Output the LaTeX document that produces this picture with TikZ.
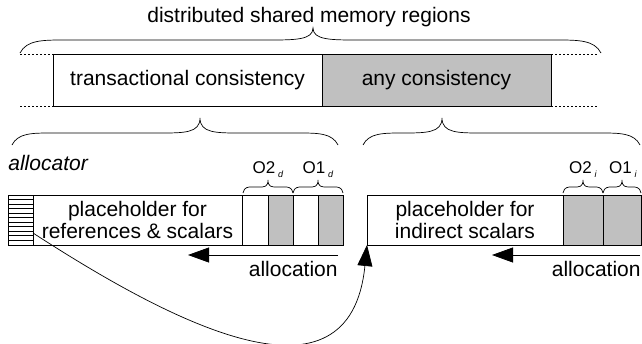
\documentclass[tikz,border=0pt]{standalone}
\usepackage{fontspec}
\setmainfont{Liberation Sans}
\usetikzlibrary{arrows.meta}
\definecolor{cellgray}{RGB}{192,192,192}
\newcommand\mybrace[7]{\draw[bracestyle] (#1,#4) .. controls ({#1+0.15*#7},#5) and ({#1+0.5*#7},#5) .. ({#1+#7},#5) -- ({#2-#7},#5) .. controls ({#2-0.4*#7},#5) and (#2,#5) .. (#2,#6) .. controls (#2,#5) and ({#2+0.4*#7},#5) .. ({#2+#7},#5) -- ({#3-#7},#5) .. controls ({#3-0.5*#7},#5) and ({#3-0.15*#7},#5) .. (#3,#4);}
\newcommand\subl[1]{\raisebox{-4pt}{\fontsize{9}{9}\selectfont\textit{#1}}}
\begin{document}
\begin{tikzpicture}[x=1pt,y=-1pt,line width=0.8pt,
  bracestyle/.style={line width=0.7pt},
  box/.style={draw,inner sep=0pt,outer sep=0pt,align=center,font=\fontsize{21}{22}\selectfont},
  graybox/.style={box,fill=cellgray},
  dotline/.style={line width=0.8pt,dash pattern=on 2pt off 2pt},
  bigarrow/.style={-{Triangle[length=21pt,width=15pt]}},
  label/.style={font=\fontsize{21}{22}\selectfont,inner sep=0pt},
  olabel/.style={font=\fontsize{17}{18}\selectfont,inner sep=0pt,anchor=base}]
\useasboundingbox (0,0) rectangle (642,343);

% title and top brace
\node[label,anchor=base] (title) at (309,22) {distributed shared memory regions};
\mybrace{20}{313}{601}{53}{40}{28}{45}

% top boxes
\node[box,minimum width=269pt,minimum height=52pt] (tc) at (187.5,80) {transactional consistency};
\node[graybox,minimum width=229pt,minimum height=52pt] (ac) at (436.5,80) {any consistency};
\coordinate (dl1) at (20,54);
\coordinate (dl2) at (20,106);
\coordinate (dr1) at (598,54);
\coordinate (dr2) at (598,106);
\draw[dotline] (dl1) -- (tc.north west);
\draw[dotline] (dl2) -- (tc.south west);
\draw[dotline] (ac.north east) -- (dr1);
\draw[dotline] (ac.south east) -- (dr2);

% lower braces
\mybrace{12}{200}{338}{145}{133}{118}{40}
\mybrace{363}{442}{640}{145}{133}{118}{40}

% allocator label
\node[label,anchor=base west,font=\fontsize{21}{22}\selectfont\itshape] (alloc) at (8,170) {allocator};

% left row
\node[box,minimum width=25pt,minimum height=50pt] (hatch) at (20.5,220) {};
\foreach \yy in {199.5,204,...,241.5} \draw[line width=0.5pt] (8,\yy) -- (33,\yy);
\node[box,minimum width=209pt,minimum height=50pt] (refs) at (137.5,220) {placeholder for\\references \& scalars};
\node[box,minimum width=26pt,minimum height=50pt] (c1) at (255,220) {};
\node[graybox,minimum width=25pt,minimum height=50pt] (c2) at (280.5,220) {};
\node[box,minimum width=25pt,minimum height=50pt] (c3) at (305.5,220) {};
\node[graybox,minimum width=25pt,minimum height=50pt] (c4) at (330.5,220) {};

\mybrace{243}{268}{293}{193}{187}{180}{9}
\mybrace{293}{318}{343}{193}{187}{180}{9}
\node[olabel] (o2d) at (268,173) {O2\,\subl{d}};
\node[olabel] (o1d) at (318,173) {O1\,\subl{d}};

% right row
\node[box,minimum width=196pt,minimum height=50pt] (ind) at (465,220) {placeholder for\\indirect scalars};
\node[graybox,minimum width=40pt,minimum height=50pt] (g1) at (583,220) {};
\node[graybox,minimum width=38pt,minimum height=50pt] (g2) at (622,220) {};

\mybrace{563}{583}{603}{193}{187}{180}{9}
\mybrace{603}{622}{641}{193}{187}{180}{9}
\node[olabel] (o2i) at (583,173) {O2\,\subl{i}};
\node[olabel] (o1i) at (623,173) {O1\,\subl{i}};

% allocation arrows
\coordinate (a1s) at (338,255);
\coordinate (a1e) at (188,255);
\draw[bigarrow] (a1s) -- (a1e);
\node[label,anchor=base east] (al1) at (338,276) {allocation};
\coordinate (a2s) at (640,255);
\coordinate (a2e) at (492,255);
\draw[bigarrow] (a2s) -- (a2e);
\node[label,anchor=base east] (al2) at (641,276) {allocation};

% curve
\coordinate (cstart) at (33,233);
\draw[bigarrow,line width=0.7pt] (cstart) .. controls (175,325) and (350,415) .. (ind.south west);
\end{tikzpicture}
\end{document}
